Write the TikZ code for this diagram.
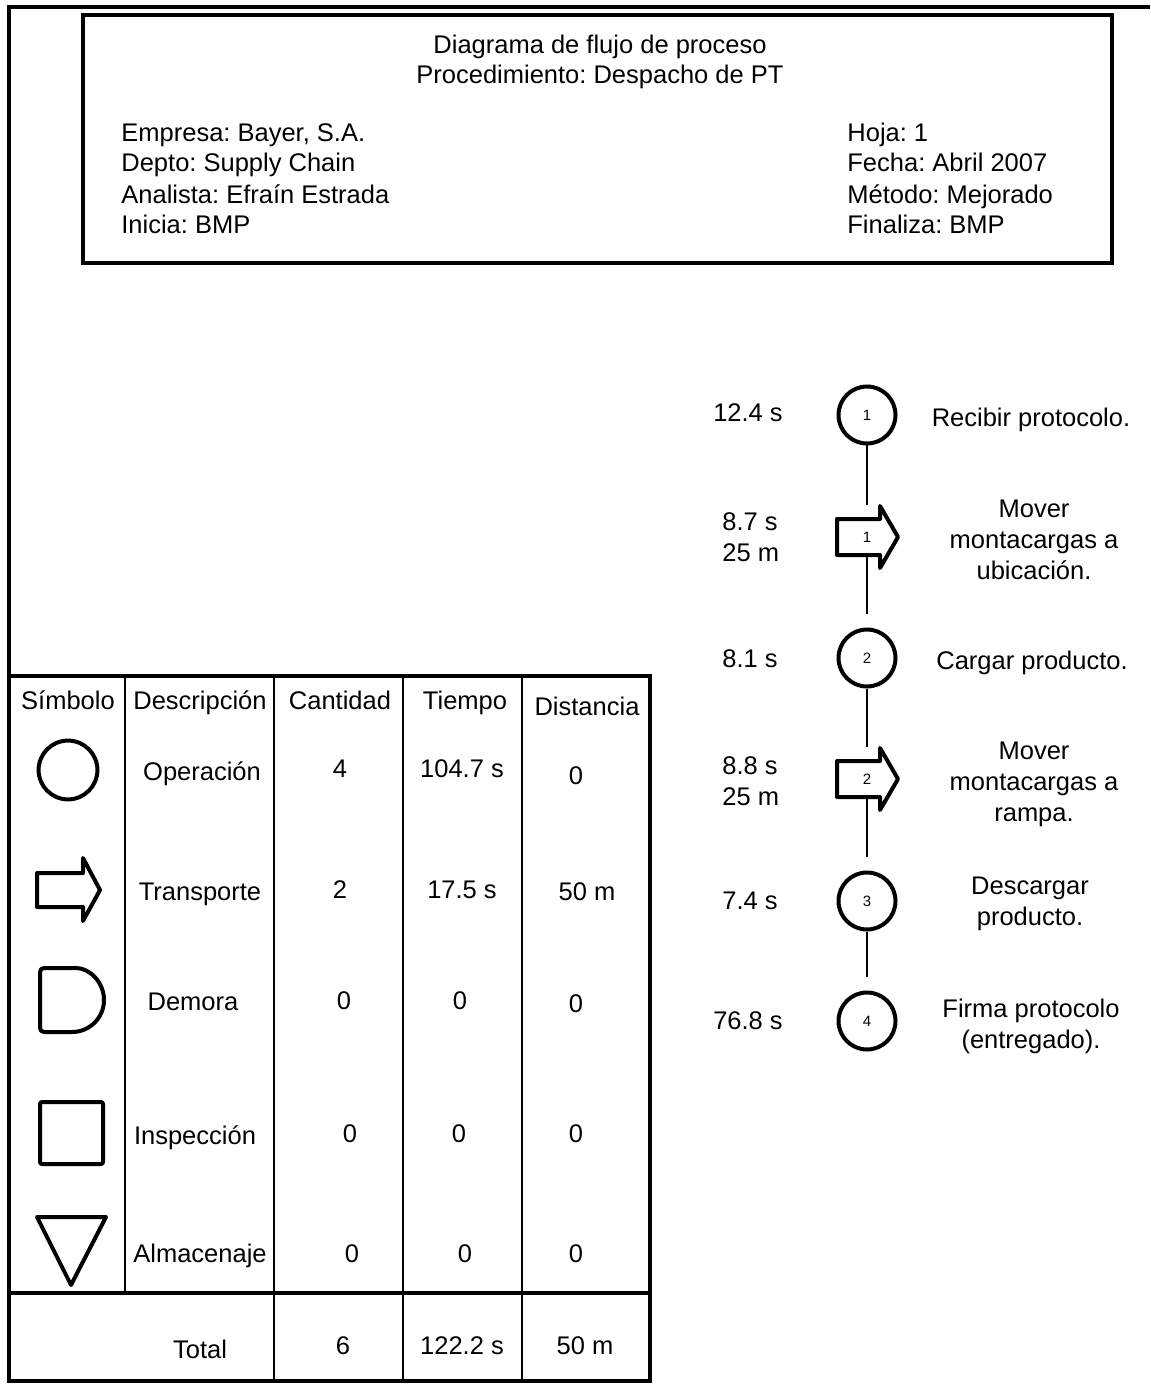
\documentclass[tikz,border=0pt]{standalone}
\usepackage{fontspec}
\setmainfont{Liberation Sans}
\usetikzlibrary{calc}
\frenchspacing

\tikzset{
  marco/.style={line width=2pt},
  rejilla/.style={line width=0.75pt},
  simbolo/.style={line width=2pt, line join=round},
  operacion/.style={circle, draw, line width=2pt, minimum size=28.5pt, inner sep=0pt, font=\fontsize{7.5}{8}\selectfont},
  numero/.style={inner sep=0pt, font=\fontsize{7.5}{8}\selectfont},
  texto/.style={inner sep=0pt, anchor=base},
  bloque/.style={inner sep=0pt, align=center, font=\fontsize{12.75}{15.5}\selectfont},
  union/.style={line width=1pt, shorten >=7pt},
}

\begin{document}
\begin{tikzpicture}[x=0.5pt, y=-0.5pt, font=\fontsize{12.75}{15}\selectfont]
    \useasboundingbox (0,0) rectangle (1150,1384);

    % Marco general y encabezado
    \draw[marco] (1150,7) -- (9,7) -- (9,676);
    \draw[marco] (83,15) rectangle (1112,263);

    \node[texto] (titulo) at (600,54) {Diagrama de flujo de proceso};
    \node[texto] (proced) at (600,84) {Procedimiento: Despacho de PT};

    \node[texto, anchor=base west] (empresa) at (121,142) {Empresa: Bayer, S.A.};
    \node[texto, anchor=base west] (depto) at (121,172) {Depto: Supply Chain};
    \node[texto, anchor=base west] (analista) at (121,204) {Analista: Efraín Estrada};
    \node[texto, anchor=base west] (inicia) at (121,234) {Inicia: BMP};

    \node[texto, anchor=base west] (hoja) at (847,142) {Hoja: 1};
    \node[texto, anchor=base west] (fecha) at (847,172) {Fecha: Abril 2007};
    \node[texto, anchor=base west] (metodo) at (847,204) {Método: Mejorado};
    \node[texto, anchor=base west] (finaliza) at (847,234) {Finaliza: BMP};

    % Diagrama de flujo
    \node[operacion] (op1) at (867,415) {1};
    \node[numero] (tr1) at (867,537) {1};
    \draw[simbolo] ($(tr1)+(-30,-18)$) -- ($(tr1)+(13,-18)$) -- ($(tr1)+(13,-31)$) -- ($(tr1)+(31,0)$)
        -- ($(tr1)+(13,31)$) -- ($(tr1)+(13,18)$) -- ($(tr1)+(-30,18)$) -- cycle;
    \coordinate (tr1n) at ($(tr1)+(0,-18)$);
    \coordinate (tr1s) at ($(tr1)+(0,18)$);
    \node[operacion] (op2) at (867,658) {2};
    \node[numero] (tr2) at (867,779) {2};
    \draw[simbolo] ($(tr2)+(-30,-18)$) -- ($(tr2)+(13,-18)$) -- ($(tr2)+(13,-31)$) -- ($(tr2)+(31,0)$)
        -- ($(tr2)+(13,31)$) -- ($(tr2)+(13,18)$) -- ($(tr2)+(-30,18)$) -- cycle;
    \coordinate (tr2n) at ($(tr2)+(0,-18)$);
    \coordinate (tr2s) at ($(tr2)+(0,18)$);
    \node[operacion] (op3) at (867,901) {3};
    \node[operacion] (op4) at (867,1021) {4};

    \draw[union] (op1) -- (tr1n);
    \draw[union] (tr1s) -- (op2);
    \draw[union] (op2) -- (tr2n);
    \draw[union] (tr2s) -- (op3);
    \draw[union] (op3) -- (op4);

    % Tiempos y distancias
    \node[texto] (t1) at (748,422) {12.4 s};
    \node[bloque, align=left, anchor=west] (t2) at (722,537) {8.7 s\\25 m};
    \node[texto] (t3) at (750,667) {8.1 s};
    \node[bloque, align=left, anchor=west] (t4) at (722,781) {8.8 s\\25 m};
    \node[texto] (t5) at (750,909) {7.4 s};
    \node[texto] (t6) at (748,1029) {76.8 s};

    % Actividades
    \node[texto] (a1) at (1031,427) {Recibir protocolo.};
    \node[bloque] (a2) at (1034,540) {Mover\\montacargas a\\ubicación.};
    \node[texto] (a3) at (1032,669) {Cargar producto.};
    \node[bloque] (a4) at (1034,784) {Mover\\montacargas a\\rampa.};
    \node[bloque] (a5) at (1030,904) {Descargar\\producto.};
    \node[bloque] (a6) at (1031,1026) {Firma protocolo\\(entregado).};

    % Tabla resumen
    \draw[marco] (9,676) rectangle (650,1381);
    \draw[marco] (9,1293) -- (650,1293);
    \draw[rejilla] (125,676) -- (125,1293);
    \draw[rejilla] (274,676) -- (274,1381);
    \draw[rejilla] (403,676) -- (403,1381);
    \draw[rejilla] (522,676) -- (522,1381);

    \node[texto] (hsim) at (68,709) {Símbolo};
    \node[texto] (hdes) at (200,709) {Descripción};
    \node[texto] (hcan) at (340,709) {Cantidad};
    \node[texto] (htie) at (465,709) {Tiempo};
    \node[texto] (hdis) at (587,715) {Distancia};

    % Simbolos
    \draw[simbolo] (68,770) circle[radius=14.7pt];
    \draw[simbolo] (37,873) -- (83,873) -- (83,858) -- (100,890) -- (83,921) -- (83,907) -- (37,907) -- cycle;
    \draw[simbolo] (72,968) arc[start angle=90, end angle=-90, radius=16pt] [rounded corners=2pt] -- (40,1032) -- (40,968) -- cycle;
    \draw[simbolo, rounded corners=1pt] (40,1102) rectangle (103,1164);
    \draw[simbolo] (37,1217) -- (106,1217) -- (71,1285) -- cycle;

    \node[texto] (dop) at (202,780) {Operación};
    \node[texto] (cop) at (340,777) {4};
    \node[texto] (top) at (462,777) {104.7 s};
    \node[texto] (xop) at (576,784) {0};

    \node[texto] (dtr) at (200,900) {Transporte};
    \node[texto] (ctr) at (340,898) {2};
    \node[texto] (ttr) at (462,898) {17.5 s};
    \node[texto] (xtr) at (587,900) {50 m};

    \node[texto] (dde) at (193,1010) {Demora};
    \node[texto] (cde) at (344,1009) {0};
    \node[texto] (tde) at (460,1009) {0};
    \node[texto] (xde) at (576,1012) {0};

    \node[texto] (din) at (195,1144) {Inspección};
    \node[texto] (cin) at (350,1142) {0};
    \node[texto] (tin) at (459,1142) {0};
    \node[texto] (xin) at (576,1142) {0};

    \node[texto] (dal) at (200,1262) {Almacenaje};
    \node[texto] (cal) at (352,1262) {0};
    \node[texto] (tal) at (465,1262) {0};
    \node[texto] (xal) at (576,1262) {0};

    \node[texto] (dto) at (200,1358) {Total};
    \node[texto] (cto) at (343,1354) {6};
    \node[texto] (tto) at (462,1354) {122.2 s};
    \node[texto] (xto) at (585,1354) {50 m};
\end{tikzpicture}
\end{document}
